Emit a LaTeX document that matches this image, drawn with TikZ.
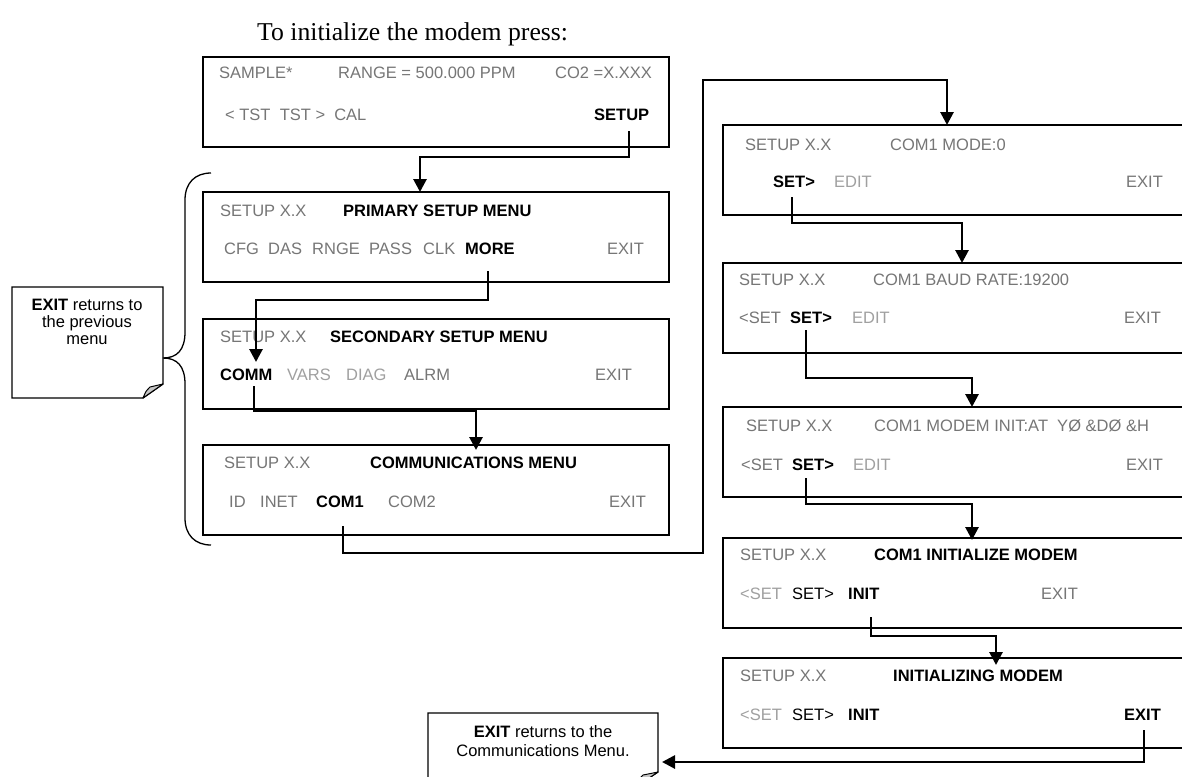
\documentclass[tikz,border=0pt]{standalone}
\usepackage{fontspec}
\setmainfont{Liberation Sans}
\newfontfamily\titlefont{Liberation Serif}
\usetikzlibrary{arrows.meta}
\definecolor{txtgray}{RGB}{118,118,118}
\definecolor{txtlight}{RGB}{160,160,160}
\begin{document}
\begin{tikzpicture}[x=1pt,y=-1pt,
  menubox/.style={draw, line width=1.5pt, anchor=north west, minimum height=90pt, inner sep=0pt, outer sep=0pt},
  leftbox/.style={menubox, minimum width=466pt},
  rightbox/.style={menubox, minimum width=520pt},
  mt/.style={anchor=west, inner sep=0pt, text height=11.8pt, text depth=0pt, font=\fontsize{16.5}{19}\selectfont, text=txtgray},
  ml/.style={mt, text=txtlight},
  mk/.style={mt, text=black},
  mb/.style={mt, text=black, font=\fontsize{16.5}{19}\selectfont\bfseries},
  conn/.style={line width=2.8pt, line join=miter, -{Triangle[length=13pt,width=13pt]}},
  callbox/.style={draw=none, anchor=north west, inner sep=0pt, outer sep=0pt},
  calline/.style={line width=1.3pt, line join=miter},
  foldfill/.style={fill=gray!45, draw=black, line width=1pt, line join=round},
  calltext/.style={align=center, inner sep=0pt, font=\fontsize{16.5}{17}\selectfont}
]
\useasboundingbox (0,0) rectangle (1182,776);
\clip (0,0) rectangle (1182,776);
\fill[white] (0,0) rectangle (1182,776);

% title
\node[anchor=base west, inner sep=0pt, font=\titlefont\fontsize{25.7}{30}\selectfont] (title) at (257,41) {To initialize the modem press:};

% ---------- left column boxes ----------
\node[leftbox] (boxA) at (203,57) {};
\node[leftbox] (boxB) at (203,192) {};
\node[leftbox] (boxC) at (203,319) {};
\node[leftbox] (boxD) at (203,445) {};

% box A
\node[mt] (aSample) at (219,73) {SAMPLE*};
\node[mt] (aRange) at (338,73) {RANGE = 500.000 PPM};
\node[mt] (aCo) at (555,73) {CO2 =X.XXX};
\node[mt] (aTst) at (225,115) {< TST\ \ TST >\ \ CAL};
\node[mb] (aSetup) at (594,115) {SETUP};

% box B
\node[mt] (bHead) at (220,211) {SETUP X.X};
\node[mb] (bTitle) at (343,211) {PRIMARY SETUP MENU};
\node[mt] (bCfg) at (224,249) {CFG};
\node[mt] (bDas) at (268,249) {DAS};
\node[mt] (bRnge) at (312,249) {RNGE};
\node[mt] (bPass) at (369,249) {PASS};
\node[mt] (bClk) at (423,249) {CLK};
\node[mb] (bMore) at (465,249) {MORE};
\node[mt] (bExit) at (607,249) {EXIT};

% box C
\node[mt] (cHead) at (220,337) {SETUP X.X};
\node[mb] (cTitle) at (330,337) {SECONDARY SETUP MENU};
\node[mb] (cComm) at (220,375) {COMM};
\node[ml] (cVars) at (287,375) {VARS};
\node[ml] (cDiag) at (346,375) {DIAG};
\node[mt] (cAlrm) at (404,375) {ALRM};
\node[mt] (cExit) at (595,375) {EXIT};

% box D
\node[mt] (dHead) at (224,463) {SETUP X.X};
\node[mb] (dTitle) at (370,463) {COMMUNICATIONS MENU};
\node[mt] (dId) at (229,502) {ID};
\node[mt] (dInet) at (260,502) {INET};
\node[mb] (dCom1) at (316,502) {COM1};
\node[mt] (dCom2) at (388,502) {COM2};
\node[mt] (dExit) at (609,502) {EXIT};

% ---------- right column boxes ----------
\node[rightbox] (boxE) at (723,125) {};
\node[rightbox] (boxF) at (723,263) {};
\node[rightbox] (boxG) at (723,407) {};
\node[rightbox] (boxH) at (723,538) {};
\node[rightbox] (boxI) at (723,658) {};

% box E
\node[mt] (eHead) at (745,145) {SETUP X.X};
\node[mt] (eTitle) at (890,145) {COM1 MODE:0};
\node[mb] (eSet) at (773,182) {SET>};
\node[ml] (eEdit) at (834,182) {EDIT};
\node[mt] (eExit) at (1126,182) {EXIT};

% box F
\node[mt] (fHead) at (739,280) {SETUP X.X};
\node[mt] (fTitle) at (873,280) {COM1 BAUD RATE:19200};
\node[mt] (fPrev) at (739,318) {<SET};
\node[mb] (fSet) at (790,318) {SET>};
\node[ml] (fEdit) at (852,318) {EDIT};
\node[mt] (fExit) at (1124,318) {EXIT};

% box G
\node[mt] (gHead) at (746,426) {SETUP X.X};
\node[mt] (gTitle) at (874,426) {COM1 MODEM INIT:AT\ \ YØ \&DØ \&H};
\node[mt] (gPrev) at (741,465) {<SET};
\node[mb] (gSet) at (792,465) {SET>};
\node[ml] (gEdit) at (853,465) {EDIT};
\node[mt] (gExit) at (1126,465) {EXIT};

% box H
\node[mt] (hHead) at (740,555) {SETUP X.X};
\node[mb] (hTitle) at (874,555) {COM1 INITIALIZE MODEM};
\node[ml] (hPrev) at (740,594) {<SET};
\node[mk] (hSet) at (792,594) {SET>};
\node[mb] (hInit) at (848,594) {INIT};
\node[mt] (hExit) at (1041,594) {EXIT};

% box I
\node[mt] (iHead) at (740,676) {SETUP X.X};
\node[mb] (iTitle) at (893,676) {INITIALIZING MODEM};
\node[ml] (iPrev) at (740,715) {<SET};
\node[mk] (iSet) at (792,715) {SET>};
\node[mb] (iInit) at (848,715) {INIT};
\node[mb] (iExit) at (1124,715) {EXIT};

% ---------- callouts ----------
\node[callbox, minimum width=151pt, minimum height=111pt] (cal1) at (12,287) {};
\draw[calline] (cal1.north west) -- (cal1.north east) -- ([yshift=14pt]cal1.south east)
  -- ([xshift=-20pt]cal1.south east) -- (cal1.south west) -- cycle;
\draw[foldfill] ([yshift=14pt]cal1.south east) -- ([xshift=-13pt,yshift=11pt]cal1.south east)
  .. controls ([xshift=-17pt,yshift=7pt]cal1.south east) .. ([xshift=-20pt]cal1.south east) -- cycle;
\node[calltext] (cal1t) at (87,322) {\textbf{EXIT} returns to\\the previous\\menu};

\node[callbox, minimum width=230pt, minimum height=75pt] (cal2) at (428,713) {};
\draw[calline] (cal2.north west) -- (cal2.north east) -- ([yshift=16pt]cal2.south east)
  -- ([xshift=-24pt]cal2.south east) -- (cal2.south west) -- cycle;
\draw[foldfill] ([yshift=16pt]cal2.south east) -- ([xshift=-15pt,yshift=13pt]cal2.south east)
  .. controls ([xshift=-20pt,yshift=8pt]cal2.south east) .. ([xshift=-24pt]cal2.south east) -- cycle;
\node[calltext, font=\fontsize{16.5}{19}\selectfont] (cal2t) at (543,741) {\textbf{EXIT} returns to the\\Communications Menu.};

% brace
\draw[line width=1.3pt] (211,173) .. controls (195,173) and (185,183) .. (185,200) -- (185,332)
  .. controls (185,350) and (177,358) .. (163,358)
  .. controls (177,358) and (185,366) .. (185,384) -- (185,518)
  .. controls (185,535) and (195,545) .. (211,545);

% ---------- connectors ----------
\coordinate (j1a) at (629,157); \coordinate (j1b) at (420,157);
\draw[conn, shorten <=10pt] (aSetup.south -| j1a) -- (j1a) -- (j1b) -- (boxB.north -| j1b);

\coordinate (j2a) at (488,300); \coordinate (j2b) at (256,300); \coordinate (j2c) at (256,362);
\draw[conn, shorten <=16pt] (bMore.south -| j2a) -- (j2a) -- (j2b) -- (j2c);

\coordinate (j3a) at (254,411); \coordinate (j3b) at (476,411);
\draw[conn, shorten <=5pt, shorten >=-5pt] (cComm.south -| j3a) -- (j3a) -- (j3b) -- (boxD.north -| j3b);

\coordinate (j4a) at (343,553); \coordinate (j4b) at (703,553);
\coordinate (j4c) at (703,80); \coordinate (j4d) at (947,80);
\draw[conn, shorten <=18pt] (dCom1.south -| j4a) -- (j4a) -- (j4b) -- (j4c) -- (j4d) -- (boxE.north -| j4d);

\coordinate (j5a) at (792,223); \coordinate (j5b) at (962,223);
\draw[conn, shorten <=9pt] (eSet.south -| j5a) -- (j5a) -- (j5b) -- (boxF.north -| j5b);

\coordinate (j6a) at (806,378); \coordinate (j6b) at (972,378);
\draw[conn, shorten <=6pt] (fSet.south -| j6a) -- (j6a) -- (j6b) -- (boxG.north -| j6b);

\coordinate (j7a) at (806,504); \coordinate (j7b) at (972,504);
\draw[conn, shorten <=7pt, shorten >=-2pt] (gSet.south -| j7a) -- (j7a) -- (j7b) -- (boxH.north -| j7b);

\coordinate (j8a) at (871,636); \coordinate (j8b) at (996,636);
\draw[conn, shorten <=17pt, shorten >=-7pt] (hInit.south -| j8a) -- (j8a) -- (j8b) -- (boxI.north -| j8b);

\coordinate (j9a) at (1144,762);
\draw[conn, shorten <=9pt, shorten >=4pt] (iExit.south -| j9a) -- (j9a) -- (cal2.east |- j9a);
\end{tikzpicture}
\end{document}
